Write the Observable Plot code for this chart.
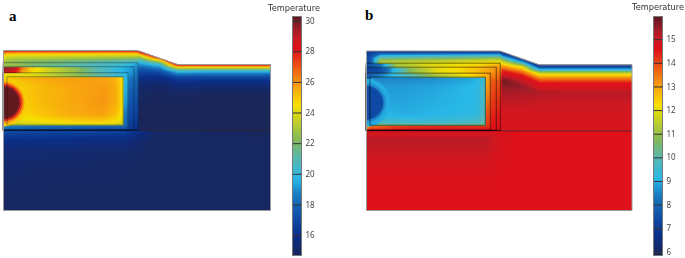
<!DOCTYPE html>
<html>
<head>
<meta charset="utf-8">
<script src="https://cdn.jsdelivr.net/npm/d3@7"></script>
<script src="https://cdn.jsdelivr.net/npm/@observablehq/plot@0.6"></script>
<style>
html,body{margin:0;padding:0;background:#fff}
#chart{position:relative;width:685px;height:258px;overflow:hidden;background:#fff}
#chart svg{position:absolute;top:0;background:transparent;filter:blur(.7px)}
.letter{position:absolute;font:bold 15px "Liberation Serif",serif;color:#000}
.title{position:absolute;font:8.2px "DejaVu Sans",sans-serif;color:#333;transform:translateX(-50%);white-space:nowrap;filter:blur(.3px)}
</style>
</head>
<body>
<div id="chart"></div>
<script>
// Palette of the rainbow bar (position along the bar, colour)
const paletteStops = [0, .08, .16, .25, .32, .41, .477, .55, .63, .707, .77, .86, .9, .94, 1];
const paletteColors = ["#1a2558","#0a2f88","#0f4da8","#1a78c0","#28b8e8","#5ab8b0","#80b860","#b8cc30","#f8e000","#f8a010","#f06a10","#e0101a","#d01820","#a81c28","#5a1a20"];

// Colour-bar ranges and tick labels
const rangeA = [14.7, 30.3];
const rangeB = [5.87, 15.98];
const ticksA = [16, 18, 20, 22, 24, 26, 28, 30];
const ticksB = [6, 7, 8, 9, 10, 11, 12, 13, 14, 15];

// Cross-section outline (model units)
const outlineX = [0, 0, 134, 174, 267, 267, 0];
const outlineY = [160, 0, 0, 14, 14, 160, 160];
const surfaceX = [-1, 134, 174, 269];
const surfaceY = [0, 0, 14, 14];
const layerRects = [[0,135,12.7,80],[0,131,16.7,80],[0,125,22.7,80],[4,120,26.7,75]];
const baseLineY = 80;
const sourceCentre = [0, 52];
const sourceRadii = [24, 21, 19, 17, 15.5];

// Cap layer that follows the surface
const capX = [0, 4, 14, 134, 137, 157, 174, 200, 267];
const capTop = [0, 0, 0, 0, 1.5, 7, 14, 14, 14];
const capDepth = [0, 1, 2, 4, 6, 9, 13, 18, 28, 40, 60];
const capA = [
 [28.8,28.6,28.6,28.6,28.6,28.6,28.6,28.6,28.6],
 [27.8,27.6,27.5,27.5,27.4,27.4,27.4,27.4,27.4],
 [26.6,26.2,26.0,25.9,25.8,25.7,25.6,25.6,25.6],
 [25.3,24.8,24.6,24.4,23.8,23.3,23.0,22.9,22.9],
 [24.6,23.9,23.7,23.2,22.2,21.2,20.8,20.6,20.6],
 [23.7,23.1,22.9,21.6,20.5,19.4,18.8,18.6,18.6],
 [22.7,22.1,21.9,19.9,18.9,17.7,16.9,16.8,16.8],
 [21.5,21.0,21.0,18.2,17.2,16.2,15.8,15.7,15.7],
 [19.0,19.0,19.0,16.2,15.6,15.1,15.0,14.9,14.9],
 [17.5,17.5,17.5,15.2,15.0,14.8,14.8,14.7,14.7],
 [15.0,15.0,15.0,14.8,14.7,14.7,14.7,14.7,14.7]
];
const capB = [
 [6.8,6.8,6.6,6.5,6.5,6.4,6.3,6.3,6.3],
 [7.0,7.0,7.0,7.0,7.0,6.9,6.8,6.8,6.8],
 [7.2,7.2,7.7,7.8,7.7,7.6,7.5,7.5,7.5],
 [7.3,7.4,8.8,9.2,9.0,8.9,8.8,8.8,8.8],
 [7.4,7.5,9.8,10.4,10.3,10.3,10.2,10.2,10.2],
 [7.5,7.6,10.9,11.6,11.5,12.0,12.0,12.0,12.0],
 [7.5,7.7,11.8,12.6,12.9,13.3,13.3,13.3,13.3],
 [7.5,7.7,12.0,13.0,14.3,14.6,14.5,14.5,14.5],
 [13.0,13.0,13.0,13.8,15.8,15.5,15.3,15.2,15.2],
 [14.0,14.0,14.0,14.2,15.4,15.2,15.0,15.0,15.0],
 [14.6,14.6,14.6,14.6,14.9,14.8,14.8,14.8,14.8]
];

// Substrate below the base line
const subX = [0, 60, 120, 135, 150, 180, 267];
const subY = [80, 88, 98, 110, 125, 160];
const subA = [
 [17.2,17.0,16.9,16.0,15.2,14.9,14.8],
 [16.1,16.0,15.8,15.4,15.0,14.9,14.9],
 [15.5,15.4,15.3,15.1,14.9,14.9,14.9],
 [15.3,15.2,15.1,15.0,14.9,14.9,14.9],
 [15.1,15.0,15.0,14.9,14.9,14.9,14.9],
 [14.9,14.9,14.9,14.9,14.9,14.9,14.9]
];
const subB = [
 [14.7,14.7,14.7,14.6,14.6,14.6,14.6],
 [15.2,15.2,15.2,14.8,14.6,14.6,14.6],
 [15.1,15.1,15.1,14.8,14.6,14.6,14.6],
 [14.9,14.9,14.9,14.7,14.6,14.6,14.6],
 [14.7,14.7,14.7,14.6,14.6,14.6,14.6],
 [14.6,14.6,14.6,14.6,14.6,14.6,14.6]
];

// Outer shell
const shellX = [0, 14, 30, 60, 120, 135];
const shellY = [12.7, 16.7, 30, 60, 80];
const shellA = [
 [23,22.8,22.2,21.8,20.5,19.3],
 [22.5,22.2,21.6,21,20,18.8],
 [19,19,19,19,18.5,18],
 [17.5,17.5,17.5,17.5,17.3,17],
 [16.5,16.5,16.5,16.5,16.3,16]
];
const shellB = [
 [7.5,8,11,11.8,12.3,12.6],
 [7.5,8.5,11.5,12,12.8,13.2],
 [13,13,13.5,13.5,13.8,13.9],
 [14,14,14,14,14.2,14.4],
 [14.6,14.6,14.6,14.6,14.6,14.6]
];

// Band under the shell top
const bandX = [0, 11, 19, 27, 44, 71, 87, 107, 127, 131];
const bandY = [16.7, 22.7];
const bandA = [
 [29.8,29.4,26.5,25,23.8,22.6,21.5,20.3,19.2,19],
 [29,28,25.5,24.7,23.8,22.6,21.5,20.3,19.2,18.8]
];
const bandB = [
 [7,7.2,7.8,9,10.8,12,12.2,12.5,13,13.2],
 [7.3,7.5,8,9.2,10.8,12,12.2,12.6,13.2,13.4]
];

// Ring around the inner box
const ringX = [0, 4, 30, 70, 120, 125];
const ringY = [22.7, 26.7, 50, 75, 80];
const ringA = [
 [24.5,24.5,24.2,22.8,20,19.5],
 [24.5,24.2,24,22.5,20,19.5],
 [25,22,22,21,19.5,19],
 [19.5,19,18.5,18.3,18,17.8],
 [17.5,17.3,17.2,17,17,16.8]
];
const ringB = [
 [7.5,7.8,9.3,11.2,12.8,13.2],
 [7.5,8,9.5,11.2,12.8,13.3],
 [8,8,10,11.5,13.5,13.7],
 [12.5,13.5,14,14.2,14.2,14.2],
 [14.5,14.5,14.6,14.6,14.6,14.6]
];

// Inner box
const boxX = [4, 10, 20, 40, 70, 100, 112, 120];
const boxY = [26.7, 29, 36, 50, 64, 71, 75];
const boxA = [
 [25,25.3,25.5,25.7,25.7,25.6,25.3,24.4],
 [24.8,25,25.3,25.5,25.7,25.7,25.4,24.4],
 [24.2,24.5,24.9,25.3,25.6,25.8,25.5,24.4],
 [25,25,24.9,25.3,25.6,25.9,25.5,24.4],
 [23.8,24.2,24.7,25.1,25.5,25.7,25.2,24.3],
 [23.3,23.8,24.2,24.5,24.8,24.9,24.6,24],
 [23,23.2,23.4,23.5,23.6,23.6,23.5,23.3]
];
const boxB = [
 [8.8,8.6,8.5,8.5,8.6,8.8,9,9.6],
 [8.8,8.6,8.6,8.6,8.7,8.9,9.1,9.8],
 [9,8.8,8.8,8.8,8.9,9.1,9.2,9.9],
 [8,8,8.9,8.9,9,9.1,9.2,9.9],
 [9.6,9.3,9.1,9,9.1,9.2,9.3,10],
 [10.2,9.9,9.6,9.5,9.5,9.6,9.7,10.1],
 [10.7,10.6,10.5,10.5,10.5,10.5,10.5,10.5]
];

// Source circle temperatures, outer to inner
const sourceA = [24.9, 25.9, 27.5, 29.6, 30.2];
const sourceB = [9, 8.9, 8.6, 7.6, 7.4];

const chart = document.getElementById("chart");
const palette = r => ({
  type: "linear",
  domain: paletteStops.map(s => r[0] + s * (r[1] - r[0])),
  range: paletteColors,
  clamp: true
});

function grid(xs, ys, temps) {
  const out = [];
  ys.forEach((y, i) => xs.forEach((x, j) => out.push({x, y, t: temps[i][j]})));
  return out;
}
function capGrid(temps) {
  const out = [];
  capDepth.forEach((d, i) => capX.forEach((x, j) => out.push({x, y: capTop[j] + d, t: temps[i][j]})));
  return out;
}
function tile(points, x1, x2, y1, y2) {
  return Plot.raster(points, {x: "x", y: "y", fill: "t", x1, x2, y1, y2, interpolate: "barycentric"});
}

function panel(left, top, bottom, right, f) {
  const outline = outlineX.map((x, i) => ({x, y: outlineY[i]}));
  const surface = surfaceX.map((x, i) => ({x, y: surfaceY[i]}));
  const rects = layerRects.map(([x1, x2, y1, y2]) => ({x1, x2, y1, y2}));
  const source = sourceRadii.map((r, i) => ({x: sourceCentre[0], y: sourceCentre[1], r, t: f.source[i]}));
  const svg = Plot.plot({
    width: right + 5, height: 258,
    marginLeft: left, marginRight: 5, marginTop: top, marginBottom: 258 - bottom,
    x: {domain: [0, 267], axis: null},
    y: {domain: [160, 0], axis: null},
    r: {type: "identity"},
    color: palette(f.range),
    marks: [
      tile(capGrid(f.cap), 0, 267, 0, 80),
      tile(grid(subX, subY, f.sub), 0, 267, 80, 160),
      tile(grid(shellX, shellY, f.shell), 0, 135, 12.7, 80),
      tile(grid(bandX, bandY, f.band), 0, 131, 16.7, 22.7),
      tile(grid(ringX, ringY, f.ring), 0, 125, 22.7, 80),
      tile(grid(boxX, boxY, f.box), 4, 120, 26.7, 75),
      Plot.dot(source, {x: "x", y: "y", r: "r", fill: "t", clip: true}),
      Plot.rect(rects, {x1: "x1", x2: "x2", y1: "y1", y2: "y2", stroke: "#000", strokeOpacity: f.lineOpacity, fill: "none"}),
      Plot.ruleY([baseLineY], {stroke: "#000", strokeOpacity: .55}),
      Plot.areaY(surface, {x: "x", y1: () => -2, y2: "y", fill: "#fff"}),
      Plot.line(outline, {x: "x", y: "y", stroke: "#9a9a9a", strokeWidth: 1})
    ]
  });
  svg.style.left = "0px";
  chart.appendChild(svg);
}

function colorbar(x0, range, ticks) {
  const svg = Plot.plot({
    width: 34, height: 258,
    marginLeft: 1, marginRight: 24, marginTop: 16, marginBottom: 3,
    x: {domain: [0, 1], axis: null},
    y: {domain: range, axis: null},
    color: palette(range),
    marks: [
      Plot.raster({fill: (x, y) => y, x1: 0, x2: 1, y1: range[0], y2: range[1], pixelSize: 1}),
      Plot.axisY(ticks, {anchor: "right", tickSize: -2, tickPadding: 6, fontSize: 8, fill: "#444", stroke: "#333", label: null}),
      Plot.tickY(ticks, {y: d => d, x1: 0, x2: .2, stroke: "#333"}),
      Plot.frame({stroke: "#777"})
    ]
  });
  svg.style.left = x0 + "px";
  chart.appendChild(svg);
}

panel(3, 50, 210, 270, {range: rangeA, cap: capA, sub: subA, shell: shellA, band: bandA, ring: ringA, box: boxA, source: sourceA, lineOpacity: .33});
panel(366, 50.5, 210, 631.5, {range: rangeB, cap: capB, sub: subB, shell: shellB, band: bandB, ring: ringB, box: boxB, source: sourceB, lineOpacity: .5});
colorbar(291, rangeA, ticksA);
colorbar(652, rangeB, ticksB);

function label(cls, txt, x, y) {
  const d = document.createElement("div");
  d.className = cls;
  d.textContent = txt;
  d.style.left = x + "px";
  d.style.top = y + "px";
  chart.appendChild(d);
}
label("letter", "a", 9, 8);
label("letter", "b", 365, 7);
label("title", "Temperature", 294, 3);
label("title", "Temperature", 658, 2);
</script>
</body>
</html>
